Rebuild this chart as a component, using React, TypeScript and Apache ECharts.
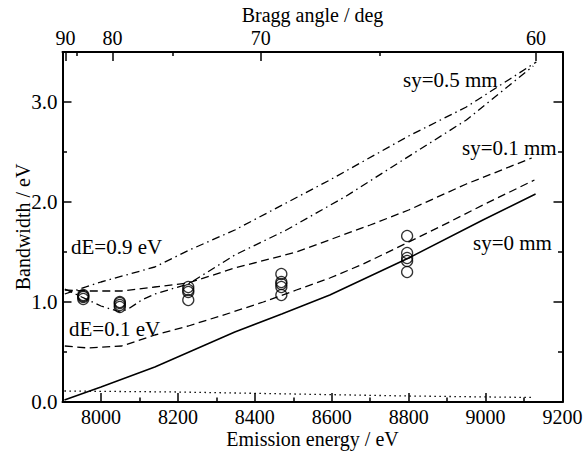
import React, { useEffect, useRef } from "react";
import * as echarts from "echarts";

// Bragg geometry: E = E0 / sin(theta)
const E0 = 7908;

// Tick labels
const energyMajorTicks = [8000, 8200, 8400, 8600, 8800, 9000, 9200];
const energyMinorTicks = [8100, 8300, 8500, 8700, 8900, 9100];
const braggMajorTicks = [90, 80, 70, 60];
const braggMinorTicks = [85, 75, 65];

// sy = 0 mm (solid)
const sy0Energy = [7905, 8000, 8140, 8348, 8470, 8595, 8800, 8993, 9130];
const sy0Width = [0.02, 0.15, 0.35, 0.7, 0.88, 1.07, 1.44, 1.82, 2.08];

// dotted baseline
const dotEnergy = [7905, 8200, 8500, 8800, 9125];
const dotWidth = [0.11, 0.1, 0.08, 0.06, 0.045];

// sy = 0.1 mm, dE = 0.1 eV (dashed, lower)
const sy01LowEnergy = [7906, 7967, 8054, 8140, 8227, 8335, 8422, 8508, 8595, 8682, 8790, 8906, 8993, 9127];
const sy01LowWidth = [0.56, 0.54, 0.56, 0.67, 0.76, 0.89, 1.0, 1.12, 1.24, 1.38, 1.58, 1.8, 1.97, 2.22];

// sy = 0.1 mm, dE = 0.9 eV (dashed, upper)
const sy01HighEnergy = [7906, 7967, 8054, 8140, 8227, 8348, 8508, 8700, 8800, 8950, 9120];
const sy01HighWidth = [1.12, 1.11, 1.11, 1.15, 1.19, 1.34, 1.5, 1.77, 1.92, 2.18, 2.44];

// sy = 0.5 mm, dE = 0.9 eV (dash-dot, upper)
const sy05HighEnergy = [7906, 8000, 8140, 8230, 8348, 8595, 8800, 8950, 9132];
const sy05HighWidth = [1.08, 1.2, 1.35, 1.52, 1.72, 2.22, 2.66, 2.95, 3.4];

// sy = 0.5 mm, dE = 0.1 eV (dash-dot, lower)
const sy05LowEnergy = [7906, 7950, 8000, 8050, 8071, 8106, 8140, 8192, 8227, 8348, 8482, 8638, 8777, 8950, 9124];
const sy05LowWidth = [1.13, 1.05, 0.96, 0.9, 0.93, 1.02, 1.08, 1.14, 1.18, 1.47, 1.72, 2.06, 2.4, 2.82, 3.36];

// measured points (open circles)
const measEnergy = [
  7954, 7954, 7954, 7954,
  8049, 8049, 8049, 8049,
  8227, 8227, 8227, 8227,
  8469, 8469, 8469, 8469, 8469,
  8796, 8796, 8796, 8796, 8796,
];
const measWidth = [
  1.03, 1.05, 1.06, 1.07,
  0.95, 0.97, 0.99, 1.0,
  1.02, 1.1, 1.12, 1.15,
  1.07, 1.15, 1.18, 1.2, 1.28,
  1.3, 1.41, 1.44, 1.49, 1.66,
];

const FONT = "Liberation Serif";
const FS = 21;
const AXIS_FS = 20;

const toDeg = Math.PI / 180;
const braggEnergy = (a: number) => E0 / Math.sin(a * toDeg);
const braggMajorEnergies = braggMajorTicks.map(braggEnergy);
const braggMinorEnergies = braggMinorTicks.map(braggEnergy);

const zip = (xs: number[], ys: number[]) => xs.map((x, i) => [x, ys[i]]);

export default function App() {
  const ref = useRef<HTMLDivElement>(null);
  useEffect(() => {
    if (!ref.current) return;
    const chart = echarts.init(ref.current, null, { renderer: "svg" });
    const axisLine = { show: true, lineStyle: { color: "#000", width: 2 } };
    const textStyle = { fontFamily: FONT, fontSize: AXIS_FS, color: "#000", lineHeight: 20 };
    const lineSeries = (data: number[][], type: any, width = 1.3) => ({
      type: "line",
      data,
      showSymbol: false,
      symbol: "none",
      lineStyle: { color: "#000", width, type },
      silent: true,
      z: 2,
    });
    const label = (text: string, x: number, y: number) => ({
      type: "text",
      x,
      y,
      style: {
        text,
        fill: "#000",
        fontFamily: FONT,
        fontSize: FS,
        textAlign: "left",
        textVerticalAlign: "middle",
        align: "left",
        verticalAlign: "middle",
      },
      z: 10,
    });
    chart.setOption({
      animation: false,
      backgroundColor: "#fff",
      textStyle: { fontFamily: FONT },
      grid: { left: 62.5, right: 21.5, top: 52, bottom: 49, containLabel: false, outerBoundsMode: "none" },
      xAxis: [
        {
          type: "value",
          position: "bottom",
          min: 7900,
          max: 9200,
          axisLine,
          splitLine: { show: false },
          axisTick: { show: true, inside: true, length: 9, customValues: energyMajorTicks, lineStyle: { color: "#000", width: 1.5 } },
          axisLabel: { show: true, customValues: energyMajorTicks, formatter: (v: number) => String(v), margin: 5, ...textStyle },
          name: "Emission energy / eV",
          nameLocation: "middle",
          nameGap: 27,
          nameMoveOverlap: false,
          nameTextStyle: textStyle,
        },
        {
          type: "value",
          position: "bottom",
          min: 7900,
          max: 9200,
          axisLine: { show: false },
          splitLine: { show: false },
          axisTick: { show: true, inside: true, length: 4.5, customValues: energyMinorTicks, lineStyle: { color: "#000", width: 1.5 } },
          axisLabel: { show: false },
        },
        {
          type: "value",
          position: "top",
          min: 7900,
          max: 9200,
          axisLine,
          splitLine: { show: false },
          axisTick: { show: true, inside: true, length: 9, customValues: braggMajorEnergies, lineStyle: { color: "#000", width: 1.5 } },
          axisLabel: {
            show: true,
            customValues: braggMajorEnergies,
            margin: 4,
            formatter: (v: number) => {
              let best = 0;
              braggMajorEnergies.forEach((e, i) => {
                if (Math.abs(e - v) < Math.abs(braggMajorEnergies[best] - v)) best = i;
              });
              return String(braggMajorTicks[best]);
            },
            ...textStyle,
          },
          name: "Bragg angle / deg",
          nameLocation: "middle",
          nameGap: 27,
          nameMoveOverlap: false,
          nameTextStyle: textStyle,
        },
        {
          type: "value",
          position: "top",
          min: 7900,
          max: 9200,
          axisLine: { show: false },
          splitLine: { show: false },
          axisTick: { show: true, inside: true, length: 4, customValues: braggMinorEnergies, lineStyle: { color: "#000", width: 1.5 } },
          axisLabel: { show: false },
        },
      ],
      yAxis: [
        {
          type: "value",
          position: "left",
          min: 0,
          max: 3.5,
          interval: 1,
          axisLine,
          splitLine: { show: false },
          axisTick: { show: true, inside: true, length: 9, lineStyle: { color: "#000", width: 1.5 } },
          minorTick: { show: true, splitNumber: 2, length: 4.5, lineStyle: { color: "#000", width: 1.5 } },
          minorSplitLine: { show: false },
          axisLabel: { show: true, showMaxLabel: false, formatter: (v: number) => (v > 3.2 ? "" : v.toFixed(1)), margin: 5, ...textStyle, fontSize: FS },
          name: "Bandwidth / eV",
          nameLocation: "middle",
          nameGap: 30,
          nameMoveOverlap: false,
          nameTextStyle: textStyle,
        },
        {
          type: "value",
          position: "right",
          min: 0,
          max: 3.5,
          interval: 1,
          axisLine,
          splitLine: { show: false },
          axisTick: { show: true, inside: true, length: 9, lineStyle: { color: "#000", width: 1.5 } },
          minorTick: { show: true, splitNumber: 2, length: 4.5, lineStyle: { color: "#000", width: 1.5 } },
          minorSplitLine: { show: false },
          axisLabel: { show: false },
        },
      ],
      series: [
        lineSeries(zip(sy0Energy, sy0Width), "solid", 1.5),
        lineSeries(zip(dotEnergy, dotWidth), [1.5, 3.5], 1.3),
        lineSeries(zip(sy01LowEnergy, sy01LowWidth), [8, 4.5]),
        lineSeries(zip(sy01HighEnergy, sy01HighWidth), [8, 4.5]),
        lineSeries(zip(sy05HighEnergy, sy05HighWidth), [8, 4, 1.5, 4]),
        lineSeries(zip(sy05LowEnergy, sy05LowWidth), [8, 4, 1.5, 4]),
        {
          type: "scatter",
          data: zip(measEnergy, measWidth),
          symbol: "circle",
          symbolSize: 11,
          itemStyle: { color: "rgba(0,0,0,0)", borderColor: "#000", borderWidth: 1.3 },
          silent: true,
          z: 5,
        },
      ],
      graphic: [
        label("dE=0.9 eV", 71, 247),
        label("dE=0.1 eV", 69, 329),
        label("sy=0.5 mm", 403, 80),
        label("sy=0.1 mm", 462, 148),
        label("sy=0 mm", 473, 243),
      ],
    });
    return () => chart.dispose();
  }, []);
  return (
    <div
      ref={ref}
      style={{ position: "fixed", left: 0, top: 0, width: 584, height: 451, background: "#fff" }}
    />
  );
}
